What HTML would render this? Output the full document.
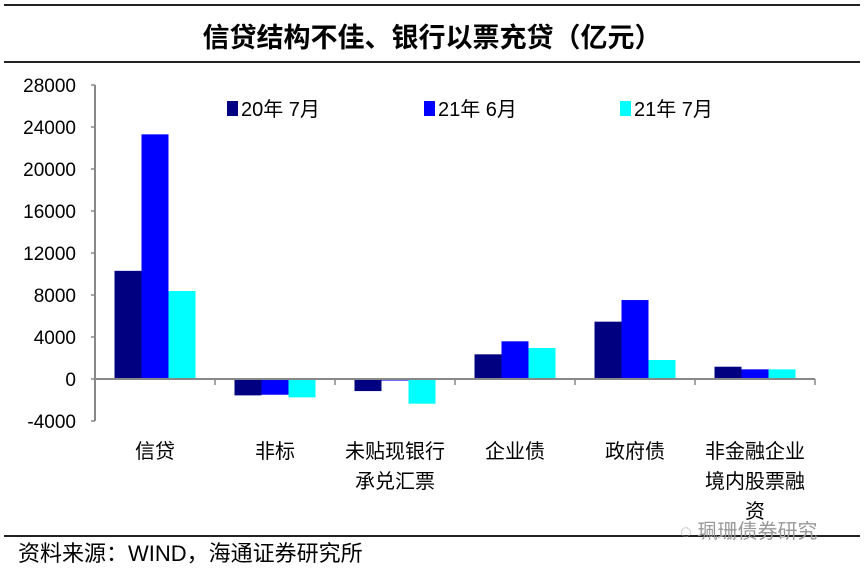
<!DOCTYPE html>
<html><head><meta charset="utf-8"><style>
body{margin:0;background:#fff;}
svg text{font-family:"Liberation Sans","Noto Sans CJK SC",sans-serif;}
</style></head><body>
<svg id="chart" width="864" height="569" xmlns="http://www.w3.org/2000/svg">
<line x1="4" y1="5" x2="860" y2="5" stroke="#222" stroke-width="2"/>
<text x="432" y="47" text-anchor="middle" font-size="27" font-weight="bold" fill="#000">信贷结构不佳、银行以票充贷（亿元）</text>
<line x1="4" y1="62" x2="860" y2="62" stroke="#222" stroke-width="2"/>
<line x1="4" y1="536" x2="860" y2="536" stroke="#222" stroke-width="2"/>
<text x="18" y="561" font-size="22" fill="#000">资料来源：WIND，海通证券研究所</text>
<text x="680" y="538" font-size="20" fill="#999">◌ 珮珊债券研究</text>
<g id="plot"></g>
</svg>
<script>
const categories=[["信贷"],["非标"],["未贴现银行","承兑汇票"],["企业债"],["政府债"],["非金融企业","境内股票融","资"]];
const seriesNames=["20年 7月","21年 6月","21年 7月"];
const s2007=[10300,-1560,-1150,2350,5460,1170];
const s2106=[23300,-1500,-150,3590,7520,920];
const s2107=[8380,-1750,-2350,2950,1810,920];
const yTicks=[-4000,0,4000,8000,12000,16000,20000,24000,28000];
const colors=["#000080","#0000ff","#00ffff"];
const series=[s2007,s2106,s2107];
const NS="http://www.w3.org/2000/svg";
const g=document.getElementById('plot');
const x0=95,x1=815,bw=(x1-x0)/categories.length;
const y=v=>379-v*42/4000;
function mk(t,a){const e=document.createElementNS(NS,t);for(const k in a)e.setAttribute(k,a[k]);g.appendChild(e);return e;}
series.forEach((s,si)=>s.forEach((v,ci)=>{
 const r=mk('rect',{x:x0+ci*bw+bw/2-40.5+si*27,y:Math.min(y(v),y(0)),width:27,height:Math.abs(y(v)-y(0)),fill:colors[si]});
 
 
}));
const ya=mk('line',{x1:x0,y1:y(28000),x2:x0,y2:y(-4000),stroke:'#888','stroke-width':2});


const xa=mk('line',{x1:x0,y1:y(0),x2:x1,y2:y(0),stroke:'#888','stroke-width':2});


yTicks.forEach(t=>{
 mk('line',{x1:x0-4,y1:y(t),x2:x0,y2:y(t),stroke:'#888','stroke-width':1.5});
 const tx=mk('text',{x:76,y:y(t)+7,'text-anchor':'end','font-size':19,fill:'#000'});
 tx.textContent=t;
 
 
});
categories.forEach((c,i)=>{
 mk('line',{x1:x0+(i+1)*bw,y1:y(0),x2:x0+(i+1)*bw,y2:y(0)+6,stroke:'#888','stroke-width':1.5});
 c.forEach((ln,j)=>{
  const tx=mk('text',{x:x0+i*bw+bw/2,y:458+j*30,'text-anchor':'middle','font-size':20,fill:'#000'});
  tx.textContent=ln;
  
  
 });
});
const lx=[227,424,620];
seriesNames.forEach((n,i)=>{
 const r=mk('rect',{x:lx[i],y:101,width:11,height:15,fill:colors[i]});
 
 
 const tx=mk('text',{x:lx[i]+14,y:116,'font-size':20,fill:'#000'});
 tx.textContent=n;
 
 
});
</script>
</body></html>
